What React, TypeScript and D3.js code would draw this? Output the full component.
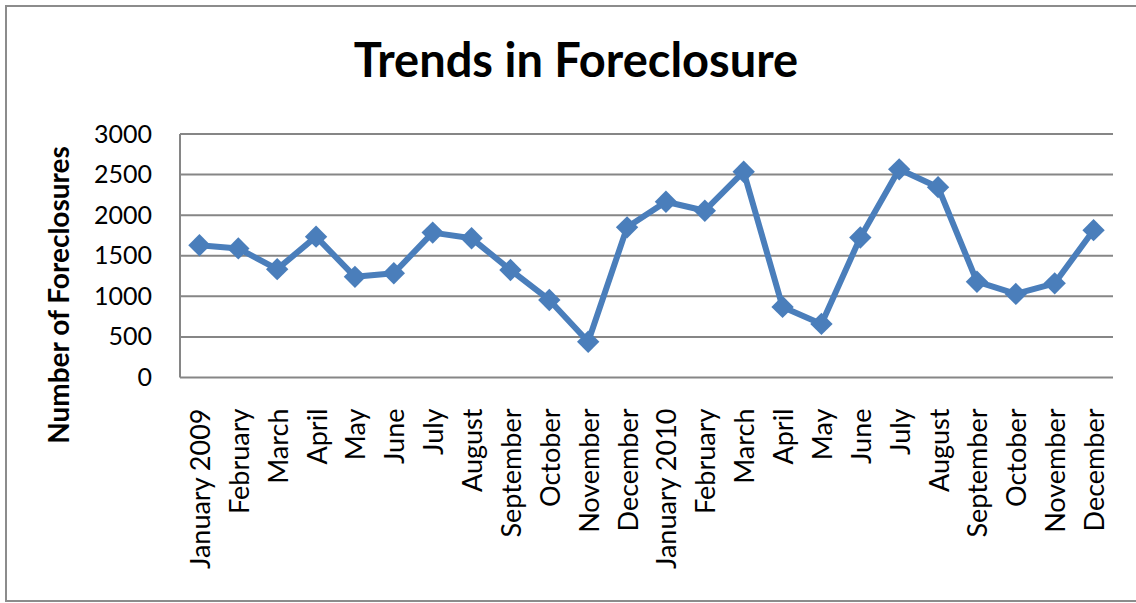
import React, { useEffect, useRef } from "react";
import * as d3 from "d3";

const months = [
  "January 2009", "February", "March", "April", "May", "June", "July",
  "August", "September", "October", "November", "December",
  "January 2010", "February", "March", "April", "May", "June", "July",
  "August", "September", "October", "November", "December",
];

const foreclosures = [
  1630, 1590, 1335, 1735, 1240, 1285, 1785, 1715, 1325, 955, 440, 1850,
  2165, 2055, 2535, 870, 660, 1725, 2565, 2345, 1180, 1030, 1160, 1815,
];

const yTicks = [0, 500, 1000, 1500, 2000, 2500, 3000];

const App = () => {
  const svgRef = useRef<SVGSVGElement>(null);

  useEffect(() => {
    if (!svgRef.current) return;

    const width = 1136;
    const height = 603;
    const margin = { top: 134, right: 23, bottom: 225.5, left: 180 };
    const innerWidth = width - margin.left - margin.right;
    const innerHeight = height - margin.top - margin.bottom;
    const font = "Lato, 'Open Sans', sans-serif";

    const svg = d3.select(svgRef.current);
    svg.selectAll("*").remove();

    // outer chart frame
    svg.append("rect")
      .attr("x", 6)
      .attr("y", 6)
      .attr("width", width + 10)
      .attr("height", 595)
      .attr("fill", "white")
      .attr("stroke", "#8c8c8c")
      .attr("stroke-width", 2);

    const idx = months.map((_, i) => i);
    const xScale = d3.scaleBand<number>().domain(idx).range([0, innerWidth]);
    const yScale = d3.scaleLinear().domain([0, 3000]).range([innerHeight, 0]);

    const g = svg.append("g")
      .attr("transform", `translate(${margin.left},${margin.top})`);

    // gridlines
    g.selectAll("line.grid")
      .data(yTicks)
      .enter()
      .append("line")
      .attr("class", "grid")
      .attr("x1", 0)
      .attr("x2", innerWidth)
      .attr("y1", (d) => yScale(d))
      .attr("y2", (d) => yScale(d))
      .attr("stroke", "#868686")
      .attr("stroke-width", 2);

    // left axis line
    g.append("line")
      .attr("x1", 0)
      .attr("x2", 0)
      .attr("y1", 0)
      .attr("y2", innerHeight)
      .attr("stroke", "#868686")
      .attr("stroke-width", 2);

    // y tick labels
    const yAxis = g.append("g")
      .call(
        d3.axisLeft(yScale)
          .tickValues(yTicks)
          .tickFormat(d3.format("d"))
          .tickSize(0)
          .tickPadding(28)
      )
      .style("font-family", font)
      .style("font-size", "25px");
    yAxis.select(".domain").remove();
    yAxis.selectAll("text").attr("fill", "#000");

    // x tick labels (rotated)
    g.selectAll("text.month")
      .data(months)
      .enter()
      .append("text")
      .attr("class", "month")
      .attr("transform", (_, i) =>
        `translate(${xScale(i)! + xScale.bandwidth() / 2},${innerHeight + 31}) rotate(-90)`)
      .attr("text-anchor", "end")
      .attr("dominant-baseline", "central")
      .style("font-family", font)
      .style("font-size", "27px")
      .text((d) => d);

    const line = d3.line<number>()
      .x((_, i) => xScale(i)! + xScale.bandwidth() / 2)
      .y((d) => yScale(d));

    g.append("path")
      .datum(foreclosures)
      .attr("fill", "none")
      .attr("stroke", "#4a7ebb")
      .attr("stroke-width", 6)
      .attr("stroke-linejoin", "round")
      .attr("d", line);

    const diamond = d3.symbol().type(d3.symbolSquare).size(250);
    g.selectAll("path.marker")
      .data(foreclosures)
      .enter()
      .append("path")
      .attr("class", "marker")
      .attr("d", diamond)
      .attr("transform", (d, i) =>
        `translate(${xScale(i)! + xScale.bandwidth() / 2},${yScale(d)}) rotate(45)`)
      .attr("fill", "#4a7ebb");

    // title
    svg.append("text")
      .attr("x", 576)
      .attr("y", 77)
      .attr("text-anchor", "middle")
      .style("font-family", font)
      .style("font-weight", "bold")
      .style("font-size", "47px")
      .text("Trends in Foreclosure");

    // y axis title
    svg.append("text")
      .attr("transform", `translate(69,295) rotate(-90)`)
      .attr("text-anchor", "middle")
      .style("font-family", font)
      .style("font-weight", "bold")
      .style("font-size", "28px")
      .text("Number of Foreclosures");
  }, []);

  return (
    <svg
      ref={svgRef}
      width={1136}
      height={603}
      style={{ position: "absolute", left: 0, top: 0, display: "block" }}
    />
  );
};

export default App;
